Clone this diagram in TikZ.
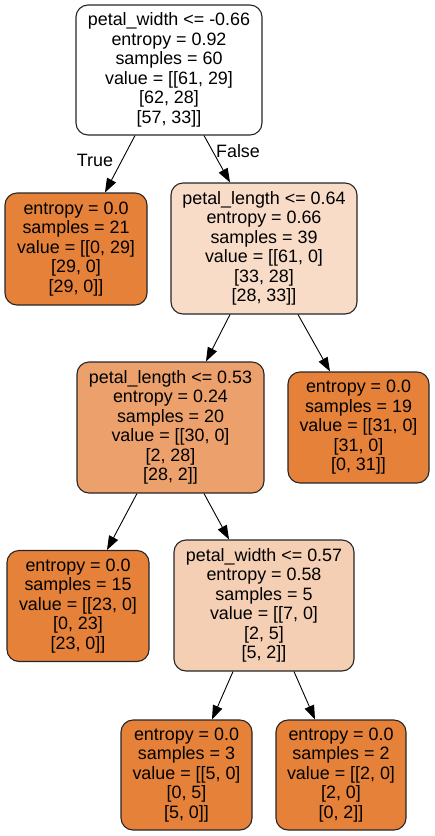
\documentclass[tikz,border=0pt]{standalone}
\usepackage{fontspec}
\setmainfont{Liberation Sans}
\usetikzlibrary{arrows.meta}
\definecolor{leaforange}{HTML}{E58139}
\definecolor{splitpale}{HTML}{F8DCC8}
\definecolor{splitmid}{HTML}{ECA16C}
\definecolor{splitlight}{HTML}{F5CFB3}
\tikzset{
  treebox/.style={draw=black!85, line width=1.1pt, rounded corners=12pt,
    align=center, inner sep=0pt, font=\fontsize{17.9}{19.5}\selectfont},
  leafbox/.style={treebox, fill=leaforange},
  edge/.style={line width=0.9pt, -{Triangle[length=14pt,width=10pt]}},
  edgelabel/.style={font=\fontsize{17.9}{19.5}\selectfont, inner sep=0pt}
}

\begin{document}
\begin{tikzpicture}[x=1pt, y=-1pt]
  \useasboundingbox (0,0) rectangle (435,836);
  % split nodes
  \node[treebox, fill=white, minimum width=186pt, minimum height=130pt] (root) at (169,70)
    {petal\_width <= -0.66\\entropy = 0.92\\samples = 60\\value = [[61, 29]\\{}[62, 28]\\{}[57, 33]]};
  \node[treebox, fill=splitpale, minimum width=186pt, minimum height=131pt] (plen1) at (264,248.5)
    {petal\_length <= 0.64\\entropy = 0.66\\samples = 39\\value = [[61, 0]\\{}[33, 28]\\{}[28, 33]]};
  \node[treebox, fill=splitmid, minimum width=187pt, minimum height=131pt] (plen2) at (170.5,427.5)
    {petal\_length <= 0.53\\entropy = 0.24\\samples = 20\\value = [[30, 0]\\{}[2, 28]\\{}[28, 2]]};
  \node[treebox, fill=splitlight, minimum width=180pt, minimum height=131pt] (pwid2) at (264,605.5)
    {petal\_width <= 0.57\\entropy = 0.58\\samples = 5\\value = [[7, 0]\\{}[2, 5]\\{}[5, 2]]};
  % leaves
  \node[leafbox, minimum width=142pt, minimum height=112pt] (leafa) at (76,249)
    {entropy = 0.0\\samples = 21\\value = [[0, 29]\\{}[29, 0]\\{}[29, 0]]};
  \node[leafbox, minimum width=141pt, minimum height=111pt] (leafb) at (358.5,427.5)
    {entropy = 0.0\\samples = 19\\value = [[31, 0]\\{}[31, 0]\\{}[0, 31]]};
  \node[leafbox, minimum width=142pt, minimum height=111pt] (leafc) at (78,606)
    {entropy = 0.0\\samples = 15\\value = [[23, 0]\\{}[0, 23]\\{}[23, 0]]};
  \node[leafbox, minimum width=131pt, minimum height=110pt] (leafd) at (186.5,775)
    {entropy = 0.0\\samples = 3\\value = [[5, 0]\\{}[0, 5]\\{}[5, 0]]};
  \node[leafbox, minimum width=130pt, minimum height=110pt] (leafe) at (341,775)
    {entropy = 0.0\\samples = 2\\value = [[2, 0]\\{}[2, 0]\\{}[0, 2]]};
  % edges
  \draw[edge] ([xshift=-34pt]root.south) -- ([xshift=29pt]leafa.north);
  \draw[edge] ([xshift=35pt]root.south) -- ([xshift=-34pt]plen1.north);
  \draw[edge] ([xshift=-34pt]plen1.south) -- ([xshift=35.5pt]plen2.north);
  \draw[edge] ([xshift=34pt]plen1.south) -- ([xshift=-28.5pt]leafb.north);
  \draw[edge] ([xshift=-33.5pt]plen2.south) -- ([xshift=29pt]leafc.north);
  \draw[edge] ([xshift=33.5pt]plen2.south) -- ([xshift=-35pt]pwid2.north);
  \draw[edge] ([xshift=-31pt]pwid2.south) -- ([xshift=25.5pt]leafd.north);
  \draw[edge] ([xshift=30pt]pwid2.south) -- ([xshift=-26pt]leafe.north);
  \node[edgelabel] (truelbl) at (95,160) {True};
  \node[edgelabel] (falselbl) at (238,151) {False};
\end{tikzpicture}
\end{document}
